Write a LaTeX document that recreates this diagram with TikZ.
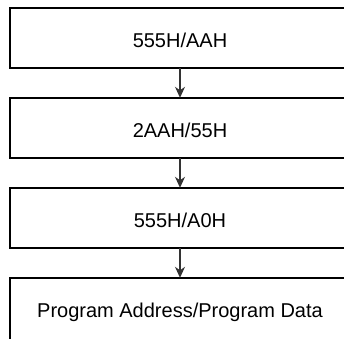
\documentclass[tikz,border=0pt]{standalone}
\usepackage{fontspec}
\setmainfont{Liberation Sans}
\usetikzlibrary{arrows.meta}
\begin{document}
\begin{tikzpicture}[x=1pt,y=-1pt,
  stepbox/.style={minimum width=340pt, minimum height=60pt,
    inner sep=0pt, text height=19pt, text depth=0pt, font=\fontsize{20pt}{24pt}\selectfont},
  frame/.style={draw=black, line width=2pt, line join=miter},
  flowarrow/.style={draw=black!80, line width=1.2pt, -{Stealth[length=11pt,width=10pt,inset=3.5pt]}}]
\useasboundingbox (0,0) rectangle (344,338);
\clip (0,0) rectangle (344,338);
\node[stepbox] (b1) at (180,38) {555H/AAH};
\node[stepbox] (b2) at (180,128) {2AAH/55H};
\node[stepbox] (b3) at (180,218) {555H/A0H};
\node[stepbox] (b4) at (180,308) {Program Address/Program Data};
\draw[frame] ([xshift=30pt]b1.north east) -- (b1.north west) -- (b1.south west) -- ([xshift=30pt]b1.south east);
\draw[frame] ([xshift=30pt]b2.north east) -- (b2.north west) -- (b2.south west) -- ([xshift=30pt]b2.south east);
\draw[frame] ([xshift=30pt]b3.north east) -- (b3.north west) -- (b3.south west) -- ([xshift=30pt]b3.south east);
\draw[frame] ([xshift=30pt]b4.north east) -- (b4.north west) -- ([yshift=-30pt]b4.south west);
\draw[flowarrow] (b1.south) -- (b2.north);
\draw[flowarrow] (b2.south) -- (b3.north);
\draw[flowarrow] (b3.south) -- (b4.north);
\end{tikzpicture}
\end{document}
